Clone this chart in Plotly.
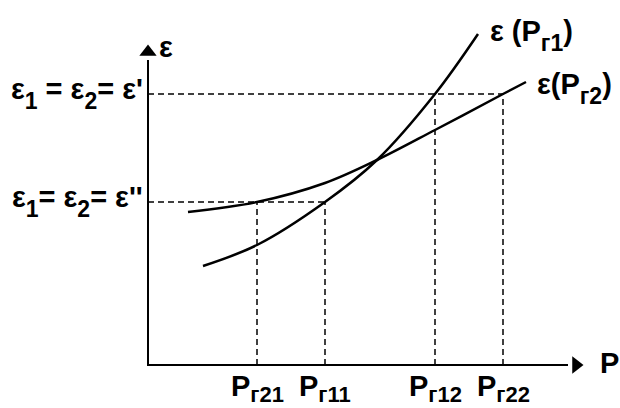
import plotly.graph_objects as go

# ---- data (abstract units) ----
p1_x = [5.5, 10.9, 17.7, 22.9, 28.7, 33.0]
p1_y = [9.9, 12.0, 16.3, 20.5, 27.1, 33.1]
p2_x = [4.0, 10.9, 17.7, 22.9, 28.7, 35.5, 37.8]
p2_y = [15.3, 16.3, 18.2, 20.5, 23.5, 27.1, 28.3]

SUB = '<sub><span style="font-size:23px;baseline-shift:-4px">{}</span></sub>'
TSUB = '<sub><span style="font-size:22px">{}</span></sub>'
tick_names = ["P" + TSUB.format("г21"), "P" + TSUB.format("г11"), "P" + TSUB.format("г12"), "P" + TSUB.format("г22")]
tick_vals = [10.9, 17.7, 28.7, 35.5]
eps_vals = [27.1, 16.3]   # ε', ε''
eps_labels = ["ε" + SUB.format("1") + " = ε" + SUB.format("2") + "= ε'",
              "ε" + SUB.format("1") + "= ε" + SUB.format("2") + "= ε''"]
curve_labels = ["ε (P" + SUB.format("г1") + ")", "ε(P" + SUB.format("г2") + ")"]

x_axis_end = 42.0
y_axis_end = 30.5

FONT = "Liberation Sans, Arial, sans-serif"
fig = go.Figure()

# axes
fig.add_trace(go.Scatter(x=[0, 0, x_axis_end], y=[y_axis_end, 0, 0], mode="lines",
                         line=dict(color="black", width=2), hoverinfo="skip"))
fig.add_trace(go.Scatter(x=[0], y=[y_axis_end + 0.8], mode="markers",
                         marker=dict(symbol="triangle-up", size=15, color="black"), hoverinfo="skip"))
fig.add_trace(go.Scatter(x=[x_axis_end + 0.8], y=[0], mode="markers",
                         marker=dict(symbol="triangle-right", size=15, color="black"), hoverinfo="skip"))

dash = dict(color="black", width=1.5, dash="6px,4px")
# horizontal guides
fig.add_trace(go.Scatter(x=[0, tick_vals[3]], y=[eps_vals[0], eps_vals[0]], mode="lines", line=dash, hoverinfo="skip"))
fig.add_trace(go.Scatter(x=[0, tick_vals[1]], y=[eps_vals[1], eps_vals[1]], mode="lines", line=dash, hoverinfo="skip"))
# vertical guides
guide_tops = [eps_vals[1], eps_vals[1], eps_vals[0], eps_vals[0]]
for tv, top in zip(tick_vals, guide_tops):
    fig.add_trace(go.Scatter(x=[tv, tv], y=[0, top], mode="lines", line=dash, hoverinfo="skip"))

# curves
fig.add_trace(go.Scatter(x=p1_x, y=p1_y, mode="lines", line=dict(color="black", width=2.5, shape="spline"),
                         hoverinfo="skip"))
fig.add_trace(go.Scatter(x=p2_x, y=p2_y, mode="lines", line=dict(color="black", width=2.5, shape="spline"),
                         hoverinfo="skip"))

f = dict(family=FONT, size=29, color="black")
ann = []
for tv, tn in zip(tick_vals, tick_names):
    ann.append(dict(x=tv, y=-0.3, text="<b>" + tn + "</b>", showarrow=False, xanchor="center", yanchor="top", font=f))
for ev, el in zip(eps_vals, eps_labels):
    ann.append(dict(x=-0.3, y=ev + 0.1, text="<b>" + el + "</b>", showarrow=False, xanchor="right", yanchor="middle", font=f))
ann.append(dict(x=0.9, y=y_axis_end + 1.3, text="<b>ε</b>", showarrow=False, xanchor="left", yanchor="middle", font=f))
ann.append(dict(x=45.0, y=0.2, text="<b>P</b>", showarrow=False, xanchor="left", yanchor="middle", font=f))
ann.append(dict(x=p1_x[-1] + 1.0, y=p1_y[-1] - 0.1, text="<b>" + curve_labels[0] + "</b>", showarrow=False,
                xanchor="left", yanchor="middle", font=f))
ann.append(dict(x=p2_x[-1] + 0.9, y=p2_y[-1] - 0.6, text="<b>" + curve_labels[1] + "</b>", showarrow=False,
                xanchor="left", yanchor="middle", font=f))

fig.update_layout(
    width=620, height=408, margin=dict(l=0, r=0, t=0, b=0),
    paper_bgcolor="white", plot_bgcolor="white", showlegend=False,
    xaxis=dict(range=[-14.8, 47.2], visible=False, fixedrange=True),
    yaxis=dict(range=[-4.3, 36.5], visible=False, fixedrange=True),
    annotations=ann,
)
fig.write_html("out.html", config={"displayModeBar": False},
               post_script="document.body.style.margin='0';document.body.style.overflow='hidden';")
